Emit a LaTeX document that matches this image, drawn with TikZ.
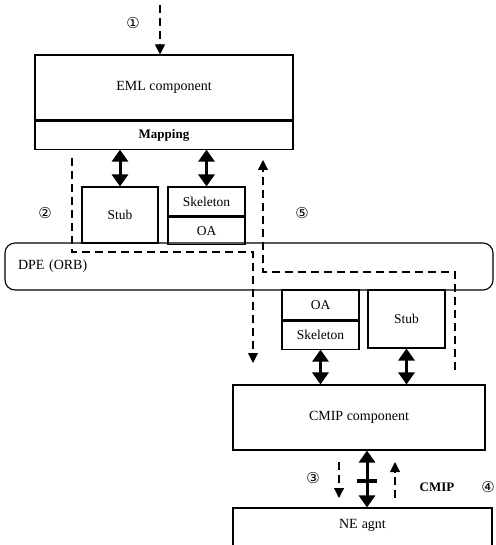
\documentclass[tikz,border=0pt]{standalone}
\usepackage{fontspec}
\setmainfont{Liberation Serif}
\newfontfamily\circfont{DejaVu Sans}
\usepackage{tikz}
\usetikzlibrary{arrows.meta, positioning}

\begin{document}
\begin{tikzpicture}[
    x=1pt, y=-1pt,
    box/.style={draw, line width=1.1pt, inner sep=0pt, align=center, font=\fontsize{13.5}{15}\selectfont},
    bigbox/.style={box, font=\fontsize{14}{16}\selectfont},
    dpebox/.style={draw, line width=1.1pt, rounded corners=10pt, minimum width=488pt, minimum height=47pt, text width=462pt, align=left, font=\fontsize{14}{16}\selectfont},
    dasharrow/.style={line width=1.1pt, dash pattern=on 8pt off 5pt, -{Triangle[length=10pt, width=10pt]}},
    dbl/.style={line width=3pt, {Triangle[length=12pt, width=16pt]}-{Triangle[length=12pt, width=16pt]}},
    num/.style={font=\circfont\fontsize{15}{17}\selectfont, inner sep=1pt},
]
    \useasboundingbox (0,0) rectangle (495,545);

    % EML side
    \node[bigbox, minimum width=258pt, minimum height=65pt] (eml) at (164,87.5) {EML component};
    \node[box, minimum width=258pt, minimum height=28pt, anchor=north, font=\bfseries\fontsize{13}{15}\selectfont] (map) at (eml.south) {Mapping};
    \node[box, minimum width=76pt, minimum height=56pt] (stubA) at (120,215) {Stub};
    \node[box, minimum width=77pt, minimum height=29pt] (skelA) at (206.5,201.5) {Skeleton};
    \node[box, minimum width=77pt, minimum height=27pt, anchor=north] (oaA) at (skelA.south) {OA};

    % DPE
    \node[dpebox] (dpe) at (249,266.5) {DPE (ORB)};

    % CMIP side
    \node[box, minimum width=77pt, minimum height=30pt] (oaB) at (320.5,305) {OA};
    \node[box, minimum width=77pt, minimum height=28pt, anchor=north] (skelB) at (oaB.south) {Skeleton};
    \node[box, minimum width=77pt, minimum height=58pt] (stubB) at (406.5,319) {Stub};
    \node[bigbox, minimum width=252pt, minimum height=65pt] (cmip) at (359,417.5) {CMIP component};
    \node[bigbox, minimum width=259pt, minimum height=44pt, text depth=13pt] (ne) at (362.5,530) {NE\hspace{4pt}agnt};

    \draw[dbl] (stubA.north) -- (stubA.north |- map.south);
    \draw[dbl] (skelA.north) -- (skelA.north |- map.south);
    \draw[dbl] (skelB.south) -- (skelB.south |- cmip.north);
    \draw[dbl] (stubB.south) -- (stubB.south |- cmip.north);

    \coordinate (link) at (367,481);
    \draw[dbl] (link |- cmip.south) -- (link |- ne.north);
    \draw[line width=3.5pt] ([xshift=-10pt]link) -- ([xshift=10pt]link);

    % message flow
    \coordinate (in1) at (160,5);
    \draw[dasharrow] (in1) -- (in1 |- eml.north);

    \coordinate (d2s) at (72,158);
    \coordinate (d2k) at (253,252);
    \coordinate (d2e) at (253,363);
    \draw[dasharrow] (d2s) |- (d2k) -- (d2e);

    \coordinate (d5s) at (455,370);
    \coordinate (d5k) at (263,272);
    \coordinate (d5e) at (263,160);
    \draw[dasharrow] (d5s) |- (d5k) -- (d5e);

    \coordinate (d3s) at (339,462);
    \coordinate (d3e) at (339,498);
    \draw[dasharrow] (d3s) -- (d3e);
    \coordinate (d4s) at (395,498);
    \coordinate (d4e) at (395,462);
    \draw[dasharrow] (d4s) -- (d4e);

    \node[font=\bfseries\fontsize{13}{15}\selectfont] (cmiplbl) at (437,487) {CMIP};

    \node[num] (n1) at (133,23) {①};
    \node[num] (n2) at (45,213) {②};
    \node[num] (n3) at (313,478) {③};
    \node[num] (n4) at (488,487) {④};
    \node[num] (n5) at (302,213) {⑤};
\end{tikzpicture}
\end{document}
